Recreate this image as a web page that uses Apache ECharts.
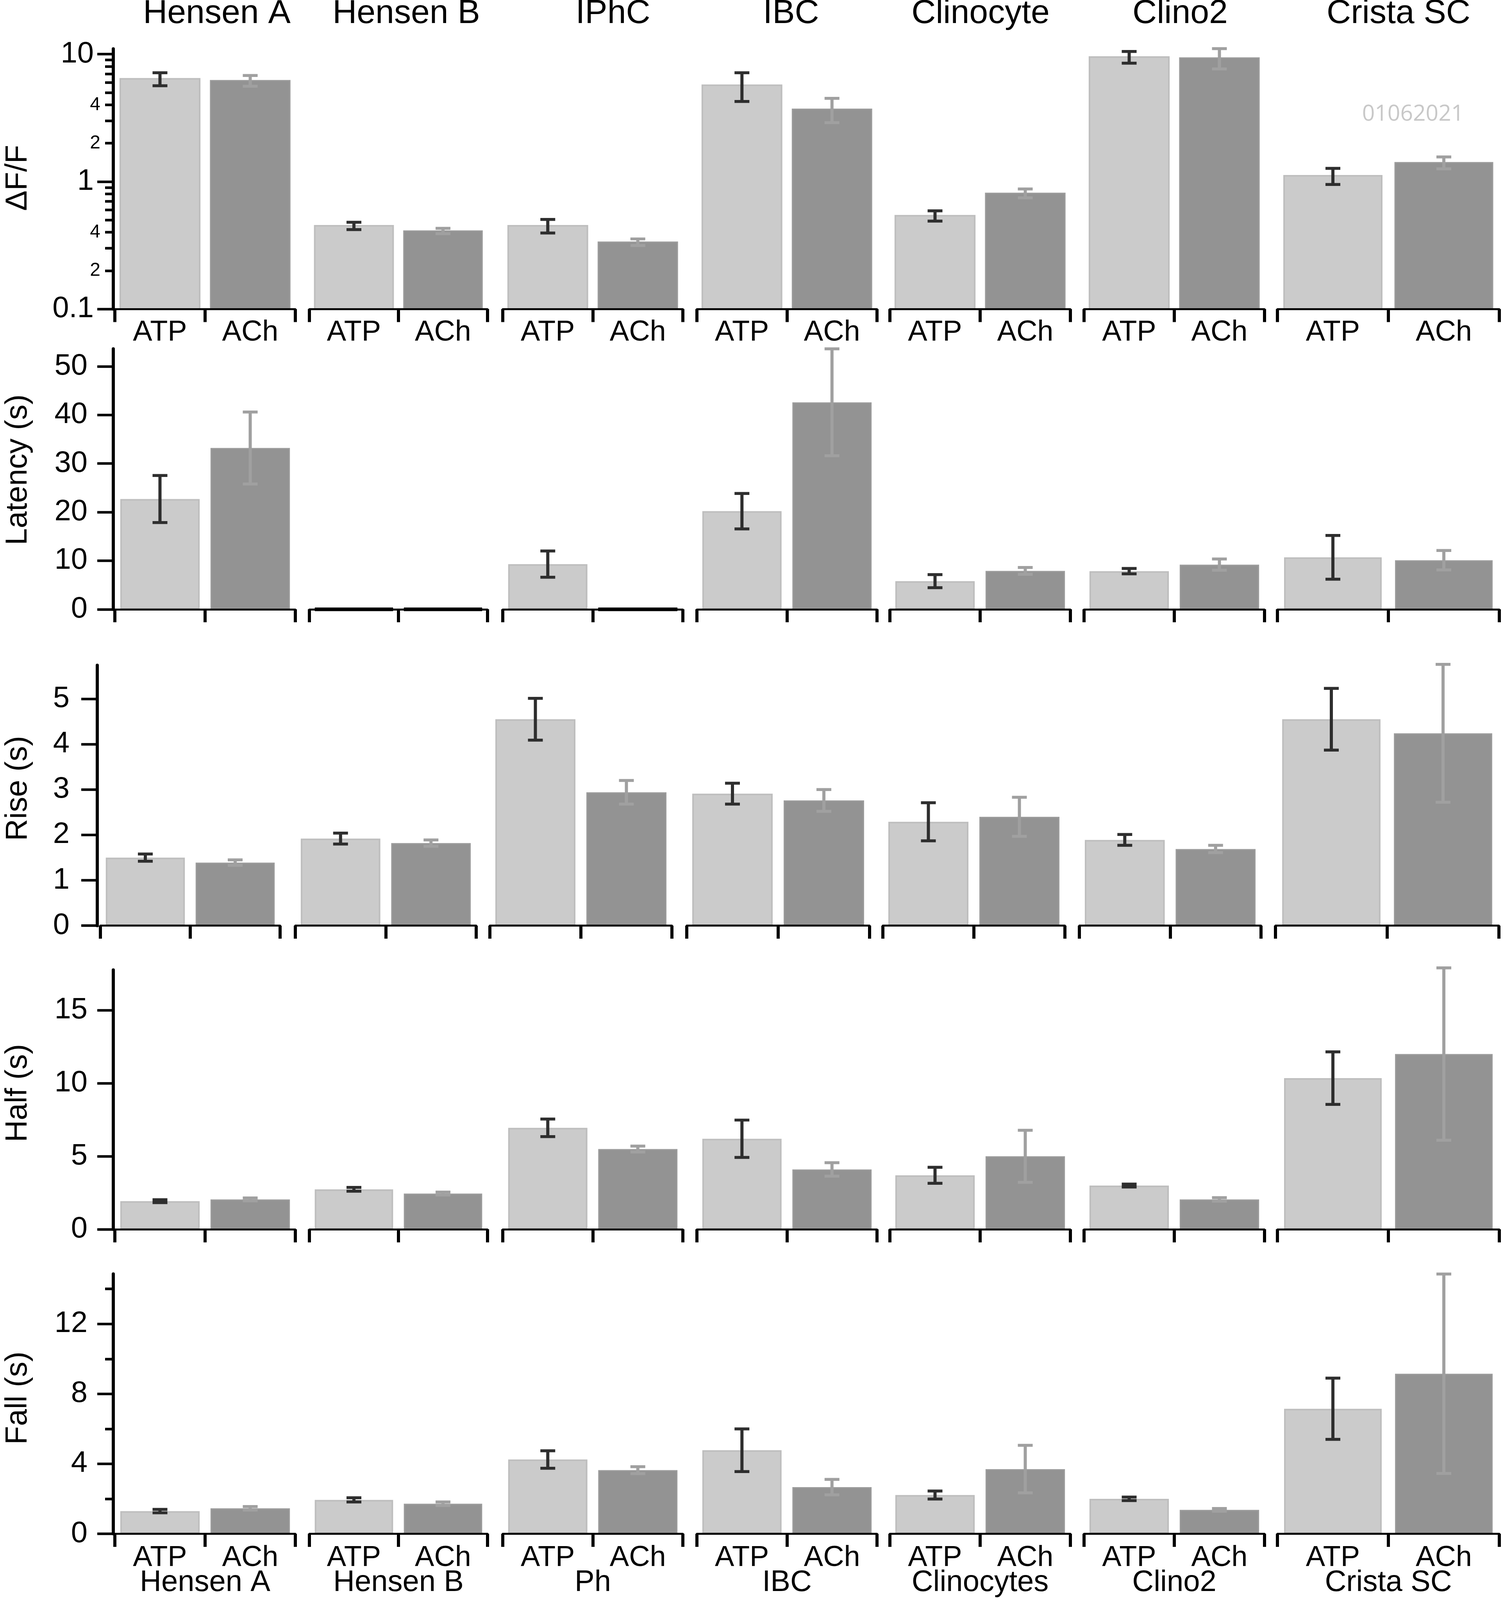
<!DOCTYPE html>
<html><head><meta charset="utf-8">
<script src="https://cdn.jsdelivr.net/npm/echarts@6/dist/echarts.min.js"></script>
<style>html,body{margin:0;padding:0;background:#fff;overflow:hidden}#c{position:absolute;left:0;top:0}</style>
</head><body><div id="c"></div>
<script>
// ---------------- data ----------------
const conditions = ['ATP', 'ACh'];
const topGroups = ['Hensen A', 'Hensen B', 'IPhC', 'IBC', 'Clinocyte', 'Clino2', 'Crista SC'];
const bottomGroups = ['Hensen A', 'Hensen B', 'Ph', 'IBC', 'Clinocytes', 'Clino2', 'Crista SC'];

const dffATP     = [6.4, 0.45, 0.45, 5.7, 0.54, 9.5, 1.11];
const dffATPErr  = [0.75, 0.03, 0.055, 1.45, 0.05, 1.0, 0.16];
const dffACh     = [6.2, 0.41, 0.335, 3.7, 0.81, 9.35, 1.41];
const dffAChErr  = [0.6, 0.02, 0.02, 0.8, 0.065, 1.7, 0.15];

const latATP     = [22.7, 0, 9.3, 20.2, 5.8, 7.85, 10.7];
const latATPErr  = [4.85, 0, 2.7, 3.65, 1.35, 0.55, 4.5];
const latACh     = [33.2, 0, 0, 42.6, 7.9, 9.2, 10.1];
const latAChErr  = [7.4, 0, 0, 11.0, 0.7, 1.15, 2.0];

const riseATP    = [1.5, 1.92, 4.55, 2.91, 2.29, 1.89, 4.55];
const riseATPErr = [0.08, 0.12, 0.46, 0.23, 0.42, 0.12, 0.68];
const riseACh    = [1.39, 1.82, 2.94, 2.76, 2.4, 1.69, 4.24];
const riseAChErr = [0.06, 0.07, 0.26, 0.24, 0.43, 0.08, 1.52];

const halfATP    = [1.93, 2.74, 6.95, 6.2, 3.7, 3.0, 10.35];
const halfATPErr = [0.1, 0.13, 0.6, 1.28, 0.55, 0.1, 1.8];
const halfACh    = [2.05, 2.45, 5.5, 4.1, 5.0, 2.05, 12.0];
const halfAChErr = [0.1, 0.1, 0.2, 0.46, 1.78, 0.12, 5.9];

const fallATP    = [1.3, 1.94, 4.25, 4.78, 2.22, 2.0, 7.15];
const fallATPErr = [0.1, 0.12, 0.5, 1.22, 0.23, 0.1, 1.75];
const fallACh    = [1.46, 1.72, 3.64, 2.67, 3.7, 1.37, 9.15];
const fallAChErr = [0.1, 0.1, 0.2, 0.44, 1.36, 0.08, 5.7];

const dffMajorTicks  = [0.1, 1, 10];
const dffMinorTicks  = [0.2, 0.3, 0.4, 0.5, 0.6, 0.7, 0.8, 0.9, 2, 3, 4, 5, 6, 7, 8, 9];
const dffMinorLabels = [0.2, 0.4, 2, 4];
const latencyTicks   = [0, 10, 20, 30, 40, 50];
const riseTicks      = [0, 1, 2, 3, 4, 5];
const halfTicks      = [0, 5, 10, 15];
const fallTicks      = [0, 4, 8, 12];
const fallMinorTicks = [2, 6, 10, 14];
const watermarkText  = '01062021';

// ---------------- layout (reference pixel frame 3850 x 4921, fitted to the viewport) ----------------
const REF_W = 3850, REF_H = 4921;
const VW = window.innerWidth || REF_W, VH = window.innerHeight || REF_H;
const sx = VW / REF_W, sy = VH / REF_H, fs = Math.min(1, Math.max(sx, sy));
const X = v => v * sx, Y = v => v * sy, F = v => v * fs;
const dom = document.getElementById('c');
dom.style.width = VW + 'px'; dom.style.height = VH + 'px';

const FONT = '"Liberation Sans", Arial, Helvetica, sans-serif';
const colsStd  = [[294,756],[792,1248],[1287,1748],[1784,2245],[2278,2740],[2775,3237],[3270,3838]];
const colsRise = [[257,717],[756,1219],[1254,1720],[1758,2226],[2260,2726],[2763,3228],[3265,3837]];
const topTitleX = [555, 1040, 1569, 2025, 2510, 3021, 3580];

const panels = [
  {name:'ΔF/F', log:true, top:150.3, bottom:950.5, min:0.1, max:11, cols:colsStd, axisX:290, lblMargin:50,
   ticks:dffMajorTicks, minor:dffMinorTicks, minorLabels:dffMinorLabels,
   atp:dffATP, atpE:dffATPErr, ach:dffACh, achE:dffAChErr, catLabels:true, catMargin:28, titleY:547},
  {name:'Latency (s)', top:1073, bottom:1874, min:0, max:53.6, interval:10, cols:colsStd, axisX:290, lblMargin:66,
   ticks:latencyTicks, atp:latATP, atpE:latATPErr, ach:latACh, achE:latAChErr, titleY:1445},
  {name:'Rise (s)', top:2046, bottom:2847, min:0, max:5.74, interval:1, cols:colsRise, axisX:249, lblMargin:71,
   ticks:riseTicks, atp:riseATP, atpE:riseATPErr, ach:riseACh, achE:riseAChErr, titleY:2425},
  {name:'Half (s)', top:2983, bottom:3781, min:0, max:17.76, interval:5, cols:colsStd, axisX:290, lblMargin:66,
   ticks:halfTicks, atp:halfATP, atpE:halfATPErr, ach:halfACh, achE:halfAChErr, titleY:3362},
  {name:'Fall (s)', top:3918, bottom:4717.5, min:0, max:14.86, interval:4, cols:colsStd, axisX:290, lblMargin:66,
   ticks:fallTicks, minor:fallMinorTicks, atp:fallATP, atpE:fallATPErr, ach:fallACh, achE:fallAChErr,
   catLabels:true, catMargin:30, titleY:4300}
];

const BAR_STYLES = [
  {color:'#cbcbcb', borderColor:'#bebebe', borderWidth:4},
  {color:'#939393', borderColor:'#9c9c9c', borderWidth:3}
];
const ZERO_BAR_STYLE = {color:'#000', borderColor:'#000', borderWidth:Y(11)};
const ERR_COLORS = ['#2e2e2e', '#a0a0a0'];

function errorRender(params, api) {
  const x = api.value(0), v = api.value(1), e = api.value(2), kind = api.value(3);
  if (!e) return null;
  const t = api.coord([x, v + e]);
  const b = api.coord([x, v - e]);
  const c = ERR_COLORS[kind];
  const capW = X(38), capH = Y(9);
  return {type:'group', children:[
    {type:'line', shape:{x1:t[0], y1:t[1], x2:b[0], y2:b[1]}, style:{stroke:c, lineWidth:X(8)}},
    {type:'rect', shape:{x:t[0]-capW/2, y:t[1]-capH/2, width:capW, height:capH}, style:{fill:c}},
    {type:'rect', shape:{x:b[0]-capW/2, y:b[1]-capH/2, width:capW, height:capH}, style:{fill:c}}
  ]};
}
function makeLogBarRender(baseVal) {
  return function (params, api) {
    const x = api.value(0), v = api.value(1), kind = api.value(2);
    const tp = api.coord([x, v]);
    const bp = api.coord([x, baseVal]);
    const w = api.size([1, 0], [x, 1])[0] * 0.88;
    const s = BAR_STYLES[kind];
    return {type:'rect', shape:{x:tp[0]-w/2, y:tp[1], width:w, height:bp[1]-tp[1]},
      style:{fill:s.color, stroke:s.borderColor, lineWidth:s.borderWidth}};
  };
}
function leadDigit(v) {
  const m = Math.pow(10, Math.floor(Math.log10(v) + 1e-9));
  return String(Math.round(v / m));
}
function isIn(list, v) { return list.some(t => Math.abs(t - v) < 1e-9 * Math.max(1, Math.abs(t))); }

const grids = [], xAxes = [], yAxes = [], series = [], graphics = [];

panels.forEach((p) => {
  p.cols.forEach((col, g) => {
    const gi = grids.length;
    grids.push({left:X(col[0]), top:Y(p.top), width:X(col[1]-col[0]), height:Y(p.bottom-p.top), containLabel:false});
    xAxes.push({type:'category', gridIndex:gi, data:conditions, boundaryGap:true, z:3,
      axisLine:{show:true, onZero:false, lineStyle:{color:'#000', width:Y(6)}},
      axisTick:{show:true, interval:0, length:Y(40), lineStyle:{color:'#000', width:X(8)}},
      axisLabel:{show:!!p.catLabels, interval:0, margin:Y(p.catMargin || 0), fontSize:F(74), color:'#000', fontFamily:FONT},
      splitLine:{show:false}});
    const yBase = {type:p.log ? 'log' : 'value', gridIndex:gi, min:p.min, max:p.max, splitLine:{show:false}};
    if (p.log) yBase.logBase = 10; else yBase.interval = p.interval;
    const yi = yAxes.length;
    if (g === 0) {
      yAxes.push(Object.assign({}, yBase, {
        position:'left', offset:X(col[0]-p.axisX), z:3,
        axisLine:{show:true, onZero:false, lineStyle:{color:'#000', width:X(8)}},
        axisTick:{show:true, length:X(41), lineStyle:{color:'#000', width:Y(8)}, customValues:p.ticks},
        axisLabel:{show:true, margin:X(p.lblMargin), fontSize:F(76), color:'#000', fontFamily:FONT, customValues:p.ticks,
          formatter:(v) => isIn(p.ticks, v) ? String(v) : ''}
      }));
      if (p.minor) {
        const minorY = Object.assign({}, yBase, {
          position:'left', offset:X(col[0]-p.axisX), z:3,
          axisLine:{show:false, onZero:false},
          axisTick:{show:true, length:X(21), lineStyle:{color:'#000', width:Y(8)}, customValues:p.minor},
          axisLabel:{show:!!p.minorLabels, margin:X(33), fontSize:F(48), color:'#000', fontFamily:FONT,
            customValues:p.minorLabels || [], formatter:(v) => (p.minorLabels && isIn(p.minorLabels, v)) ? leadDigit(v) : ''}
        });
        if (!p.log) minorY.interval = p.interval / 2;
        yAxes.push(minorY);
      }
    } else {
      yAxes.push(Object.assign({}, yBase, {show:false}));
    }
    if (p.log) {
      series.push({type:'custom', xAxisIndex:gi, yAxisIndex:yi, renderItem:makeLogBarRender(p.min), clip:false,
        encode:{x:0, y:1}, z:2, silent:true,
        data:[[0, p.atp[g], 0], [1, p.ach[g], 1]]});
    } else {
      const vals = [p.atp[g], p.ach[g]];
      series.push({type:'bar', xAxisIndex:gi, yAxisIndex:yi, barWidth:'88%', z:2, silent:true,
        data:vals.map((v, k) => ({value:v, itemStyle: v === 0 ? ZERO_BAR_STYLE : BAR_STYLES[k]}))});
    }
    series.push({type:'custom', xAxisIndex:gi, yAxisIndex:yi, renderItem:errorRender, clip:false,
      encode:{x:0, y:1}, z:5, silent:true,
      data:[[0, p.atp[g], p.atpE[g], 0], [1, p.ach[g], p.achE[g], 1]]});
  });
  graphics.push({type:'text', x:X(46), y:Y(p.titleY), rotation:Math.PI/2, z:10,
    style:{text:p.name, fontSize:F(78), fontFamily:FONT, fill:'#000',
      align:'center', verticalAlign:'middle', textAlign:'center', textVerticalAlign:'middle'}});
});

topGroups.forEach((t, g) => {
  graphics.push({type:'text', x:X(topTitleX[g]), y:Y(42), z:10,
    style:{text:t, fontSize:F(86), fontFamily:FONT, fill:'#000',
      align:'center', verticalAlign:'middle', textAlign:'center', textVerticalAlign:'middle'}});
});
const lastCols = panels[4].cols;
bottomGroups.forEach((t, g) => {
  graphics.push({type:'text', x:X((lastCols[g][0] + lastCols[g][1]) / 2), y:Y(4868), z:10,
    style:{text:t, fontSize:F(76), fontFamily:FONT, fill:'#000',
      align:'center', verticalAlign:'middle', textAlign:'center', textVerticalAlign:'middle'}});
});
graphics.push({type:'text', x:X(3617), y:Y(352), z:10,
  style:{text:watermarkText, fontSize:F(57), fontFamily:'"Open Sans", "Noto Sans", sans-serif', fill:'#c8c8c8',
    align:'center', verticalAlign:'middle', textAlign:'center', textVerticalAlign:'middle'}});

const chart = echarts.init(dom, null, {renderer:'canvas', width:VW, height:VH, devicePixelRatio:1});
chart.setOption({
  animation:false,
  backgroundColor:'#ffffff',
  textStyle:{fontFamily:FONT},
  grid:grids, xAxis:xAxes, yAxis:yAxes, series:series, graphic:graphics
});
</script>
</body></html>
